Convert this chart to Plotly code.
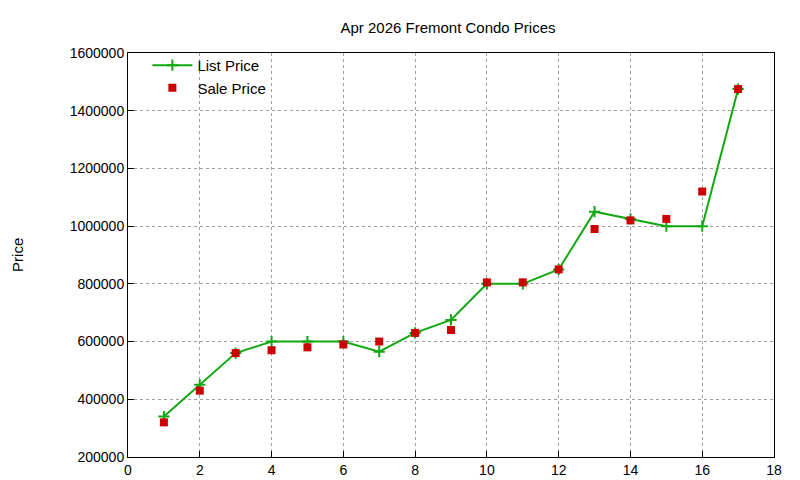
import plotly.graph_objects as go

x = list(range(1, 18))
list_price = [340000, 450000, 560000, 600000, 600000, 600000, 565000, 630000, 675000,
              800000, 800000, 850000, 1050000, 1025000, 1000000, 1000000, 1475000]
sale_price = [320000, 430000, 560000, 570000, 580000, 590000, 600000, 630000, 640000,
              805000, 805000, 850000, 990000, 1020000, 1025000, 1120000, 1475000]

fig = go.Figure()

fig.add_trace(go.Scatter(
    x=x, y=list_price, mode='lines+markers', name='List Price',
    line=dict(color='#11a811', width=2),
    marker=dict(symbol='cross-thin', size=8, line=dict(color='#11a811', width=2)),
))

fig.add_trace(go.Scatter(
    x=x, y=sale_price, mode='markers', name='Sale Price',
    marker=dict(symbol='square', size=8, color='#cc0000'),
))

axis_style = dict(
    showgrid=True, gridcolor='#a0a0a0', griddash='dot', gridwidth=1,
    showline=True, linecolor='black', linewidth=1, mirror=True,
    ticks='inside', ticklen=6, tickcolor='black', zeroline=False, automargin=False,
    tickfont=dict(family='Liberation Sans, Arial', size=14, color='black'),
)

fig.update_xaxes(range=[0, 18], dtick=2, **axis_style)
fig.update_yaxes(range=[200000, 1600000], dtick=200000, tickformat='d', **axis_style)

# y-axis title placed like gnuplot's, far left
fig.add_annotation(text='Price', xref='paper', yref='paper', x=-0.172, y=0.5,
                   textangle=-90, showarrow=False, xanchor='center', yanchor='middle',
                   font=dict(family='Liberation Sans, Arial', size=15, color='black'))

fig.update_layout(
    title=dict(text='Apr 2026 Fremont Condo Prices', x=0.55, y=0.958, xanchor='center',
               yanchor='middle', automargin=False,
               font=dict(family='Liberation Sans, Arial', size=15, color='black')),
    width=800, height=480,
    margin=dict(l=120, r=34, t=45, b=31),
    plot_bgcolor='white', paper_bgcolor='white',
    legend=dict(x=0.03, y=1.01, xanchor='left', yanchor='top', bgcolor='rgba(0,0,0,0)',
                tracegroupgap=0, itemwidth=40,
                font=dict(family='Liberation Sans, Arial', size=15, color='black')),
)

fig.write_html("out.html")
